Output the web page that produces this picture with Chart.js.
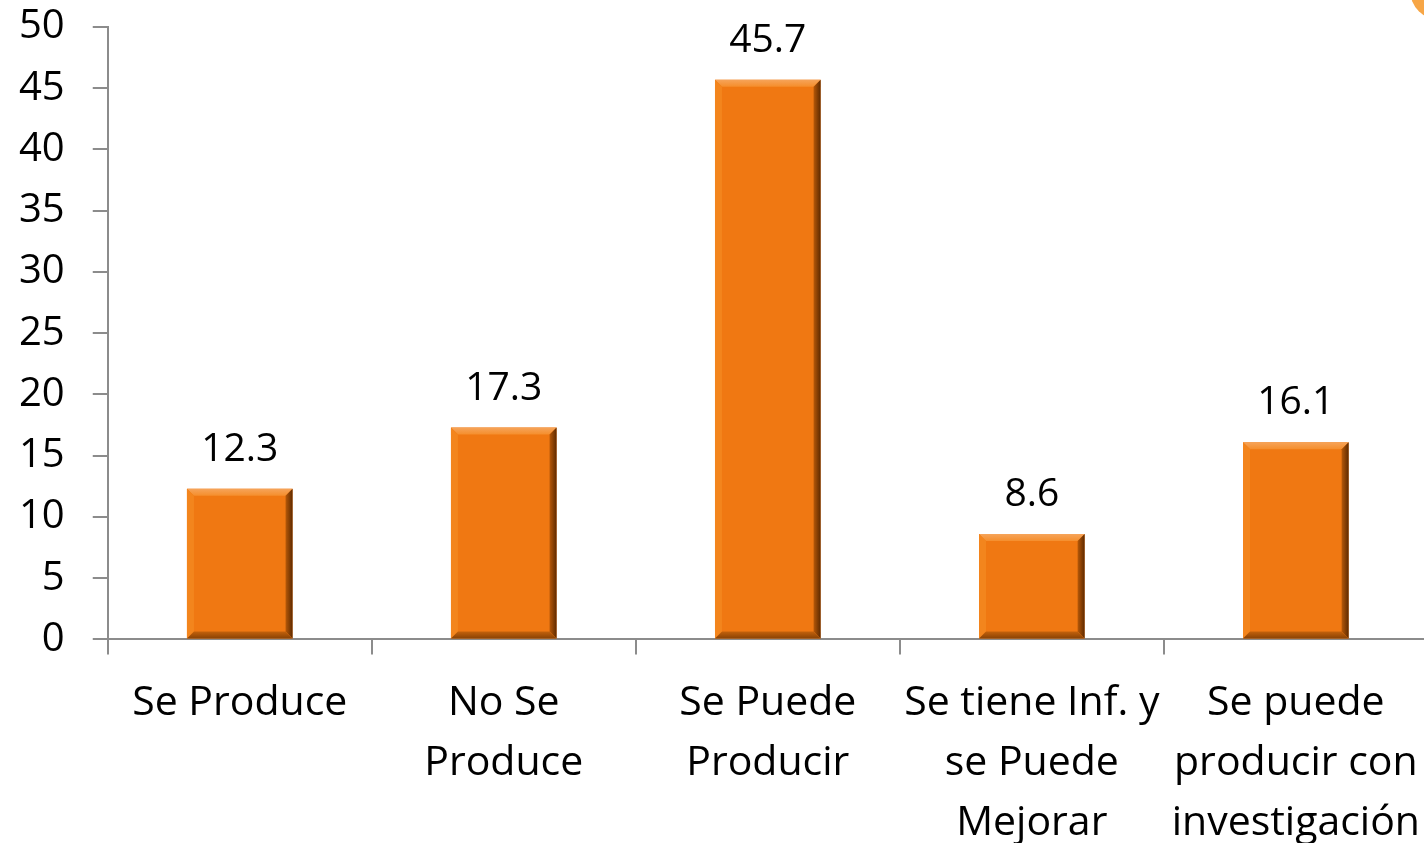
<!DOCTYPE html>
<html>
<head>
  <meta charset="utf-8">
  <title>Producción</title>
  <script src="https://cdn.jsdelivr.net/npm/chart.js"></script>
  <style>
    html, body { margin: 0; padding: 0; background: #fff; overflow: hidden; }
    #wrap { position: absolute; left: -15px; top: -25px; width: 1455px; height: 897px; }
  </style>
</head>
<body>
  <div id="wrap">
    <canvas id="myChart"></canvas>
  </div>
  <script>
// Data
const categories = [
  ['Se Produce'],
  ['No Se', 'Produce'],
  ['Se Puede', 'Producir'],
  ['Se tiene Inf. y', 'se Puede', 'Mejorar'],
  ['Se puede', 'producir con', 'investigación']
];
const values = [12.3, 17.3, 45.7, 8.6, 16.1];
const yTicks = [0, 5, 10, 15, 20, 25, 30, 35, 40, 45, 50];

const FONT = "'Open Sans', 'Noto Sans', sans-serif";
const AXIS = '#8c8c8c';

// bevelled bars + value labels
const bevelPlugin = {
  id: 'bevel',
  afterDatasetsDraw(chart) {
    const c = chart.ctx;
    const meta = chart.getDatasetMeta(0);
    meta.data.forEach((bar, i) => {
      const l = bar.x - bar.width / 2, r = bar.x + bar.width / 2;
      const t = bar.y, b = bar.base;
      const d = Math.min(7, (b - t) / 3);
      c.save();
      // top
      let g = c.createLinearGradient(0, t, 0, t + d);
      g.addColorStop(0, '#f6a45a'); g.addColorStop(1, '#f58e2c');
      c.fillStyle = g;
      c.beginPath(); c.moveTo(l, t); c.lineTo(r, t); c.lineTo(r - d, t + d); c.lineTo(l + d, t + d); c.closePath(); c.fill();
      // left
      c.fillStyle = '#f3851d';
      c.beginPath(); c.moveTo(l, t); c.lineTo(l + d, t + d); c.lineTo(l + d, b - d); c.lineTo(l, b); c.closePath(); c.fill();
      // right
      g = c.createLinearGradient(r - d, 0, r, 0);
      g.addColorStop(0, '#b65808'); g.addColorStop(1, '#5e2a00');
      c.fillStyle = g;
      c.beginPath(); c.moveTo(r, t); c.lineTo(r, b); c.lineTo(r - d, b - d); c.lineTo(r - d, t + d); c.closePath(); c.fill();
      // bottom
      g = c.createLinearGradient(0, b - d, 0, b);
      g.addColorStop(0, '#c4620c'); g.addColorStop(1, '#8a4204');
      c.fillStyle = g;
      c.beginPath(); c.moveTo(l, b); c.lineTo(r, b); c.lineTo(r - d, b - d); c.lineTo(l + d, b - d); c.closePath(); c.fill();
      // value label
      c.fillStyle = '#000';
      c.font = '39px ' + FONT;
      c.textAlign = 'center';
      c.textBaseline = 'middle';
      c.fillText(values[i].toFixed(1), bar.x, t - 39);
      c.restore();
    });
    // little orange shape in the corner
    c.save();
    c.fillStyle = '#f7a646';
    c.beginPath();
    c.arc(1455, 15, 30, 0, Math.PI * 2);
    c.fill();
    c.restore();
  }
};

const ctx = document.getElementById('myChart');
const chart = new Chart(ctx, {
  type: 'bar',
  data: {
    labels: categories,
    datasets: [{
      data: values,
      backgroundColor: '#f07812',
      borderWidth: 0,
      categoryPercentage: 0.4,
      barPercentage: 1
    }]
  },
  options: {
    responsive: true,
    maintainAspectRatio: false,
    animation: false,
    layout: { padding: { top: 6, right: 10, left: 6, bottom: 0 } },
    plugins: {
      legend: { display: false },
      tooltip: { enabled: false }
    },
    scales: {
      x: {
        grid: { display: true, drawOnChartArea: false, color: AXIS, lineWidth: 2, tickLength: 15, offset: true },
        border: { color: AXIS, width: 2 },
        ticks: { color: '#000', font: { family: FONT, size: 41, lineHeight: 1.46 }, maxRotation: 0, autoSkip: false, padding: 19 }
      },
      y: {
        min: 0, max: 50,
        afterBuildTicks(axis) { axis.ticks = yTicks.map(v => ({ value: v })); },
        grid: { display: true, drawOnChartArea: false, color: AXIS, lineWidth: 2, tickLength: 15 },
        border: { color: AXIS, width: 2 },
        ticks: { color: '#000', font: { family: FONT, size: 40 }, padding: 28 }
      }
    }
  },
  plugins: [bevelPlugin]
});
  </script>
</body>
</html>
